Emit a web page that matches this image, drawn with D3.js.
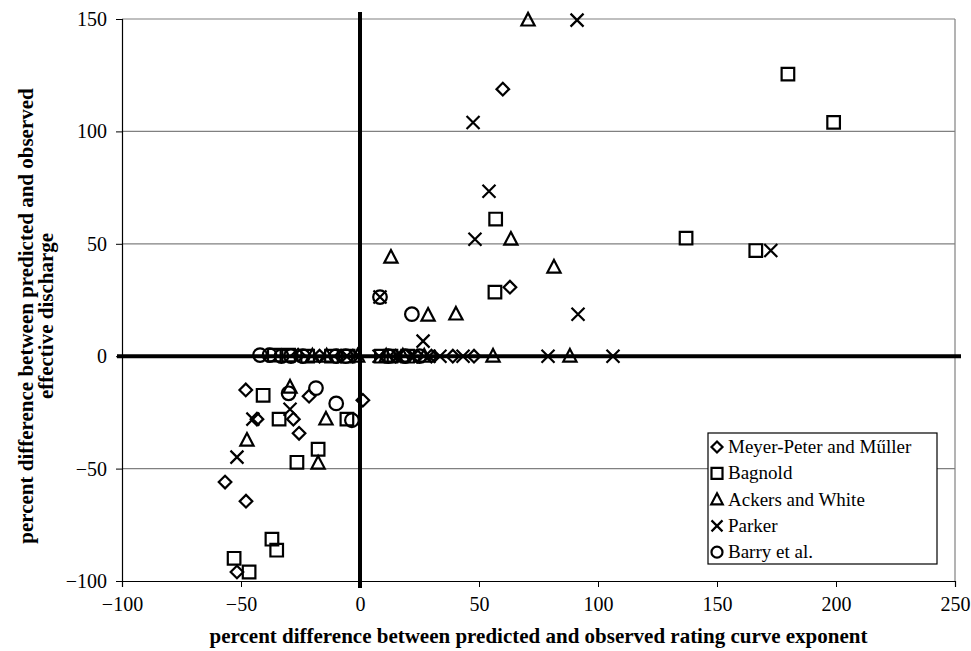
<!DOCTYPE html>
<html>
<head>
<meta charset="utf-8">
<script src="https://cdn.jsdelivr.net/npm/d3@7"></script>
<style>
  body { margin: 0; background: #fff; }
</style>
</head>
<body>
<div id="chart"></div>
<script>
// percent differences, [rating curve exponent, effective discharge]
const meyerPeter = [[-48,-15],[-21.4,-17.8],[1.2,-19.6],[-43.3,-28],[-28,-28],[-25.6,-34.3],
  [-56.7,-56],[-47.9,-64.5],[-51.7,-96],[60,118.8],[63,30.7],[39,0],[47.9,0],
  [-26,0.5],[-17,0],[-8,0],[-3,0],[15,0],[24,0],[30,0]];
const bagnold = [[-40.7,-17.4],[-34,-28],[-5.5,-28],[-17.6,-41.4],[-26.5,-47.2],[-37,-81.4],
  [-35,-86.3],[-52.9,-89.9],[-46.6,-96],[57,61],[56.7,28.5],[137,52.5],[166.3,47],
  [179.8,125.5],[199,104],[-36,0.5],[-30,0.5],[-22,0],[-12,0],[-5,0],[9,0],[13,0],[20,0]];
const ackersWhite = [[-29.4,-13.8],[-14.3,-28],[-47.5,-37.4],[-17.6,-47.6],[70.6,149.5],
  [13,44],[63.4,52],[81.5,39.6],[28.6,18.2],[40.3,18.7],[55.9,0],[88.2,0],
  [-20,0],[-14,0],[-1,0],[11,0],[18,0],[27,0]];
const parker = [[-45,-28],[-29.4,-23.6],[-51.7,-44.9],[54.2,73.4],[48.3,52],[8.4,26.3],
  [91.6,18.7],[26.5,6.7],[91.2,149.5],[172.6,47],[47.5,104],[33.6,0],[43.3,0],[79,0],
  [106.3,0],[8,0],[16,0],[22,0],[29,0]];
const barry = [[-30,-16.5],[-18.5,-14.2],[-10,-21],[-3.4,-28.5],[8.4,26.3],[21.8,18.7],
  [-42,0.5],[-38,0.5],[-33,0],[-29,0],[-24,0],[-10,0],[-6,0],[12,0],[19,0],[25,0]];

const seriesNames = ["Meyer-Peter and Műller", "Bagnold", "Ackers and White", "Parker", "Barry et al."];
const seriesShapes = ["diamond", "square", "triangle", "cross", "circle"];
const seriesData = [meyerPeter, bagnold, ackersWhite, parker, barry];

const xTicks = [-100, -50, 0, 50, 100, 150, 200, 250];
const yTicks = [-100, -50, 0, 50, 100, 150];

const serif = "'Times New Roman', Times, 'Liberation Serif', 'DejaVu Serif', serif";

const width = 971, height = 651,
    margin = ({top: 19, right: 16, bottom: 70, left: 122});

const svg = d3.select("#chart").append("svg")
    .attr("width", width).attr("height", height)
    .style("font-family", serif);

const x = d3.scaleLinear().domain([-100, 250]).range([margin.left, width - margin.right]);
const y = d3.scaleLinear().domain([-100, 150]).range([height - margin.bottom, margin.top]);

// gridlines (gray), and right border
svg.append("g").selectAll("line")
    .data(yTicks.filter(d => d !== 0 && d !== -100))
    .join("line")
    .attr("x1", x(-100)).attr("x2", x(250))
    .attr("y1", d => y(d)).attr("y2", d => y(d))
    .attr("stroke", "#808080").attr("stroke-width", 1.2);
svg.append("line")
    .attr("x1", x(250)).attr("x2", x(250)).attr("y1", y(150)).attr("y2", y(-100))
    .attr("stroke", "#808080").attr("stroke-width", 1.2);

// left and bottom axes
const yAxis = g => g
    .attr("transform", `translate(${x(-100)},0)`)
    .call(d3.axisLeft(y).tickValues(yTicks).tickSize(6).tickPadding(9))
    .attr("font-family", serif).attr("font-size", 20)
    .call(g => g.select(".domain").attr("stroke-width", 1.2));

const xAxis = g => g
    .attr("transform", `translate(0,${y(-100)})`)
    .call(d3.axisBottom(x).tickValues(xTicks).tickSize(6).tickPadding(10))
    .attr("font-family", serif).attr("font-size", 20)
    .call(g => g.select(".domain").attr("stroke-width", 1.2));

svg.append("g").call(yAxis);
svg.append("g").call(xAxis);

// thick zero lines
svg.append("line")
    .attr("x1", x(-100) - 5).attr("x2", x(250) + 6).attr("y1", y(0)).attr("y2", y(0))
    .attr("stroke", "#000").attr("stroke-width", 4);
svg.append("line")
    .attr("x1", x(0)).attr("x2", x(0)).attr("y1", y(150) - 7).attr("y2", y(-100) + 7)
    .attr("stroke", "#000").attr("stroke-width", 4);

// marker shapes
function shapePath(shape, r) {
  if (shape === "diamond") return `M0,${-r}L${r},0L0,${r}L${-r},0Z`;
  if (shape === "square") return `M${-r},${-r}H${r}V${r}H${-r}Z`;
  if (shape === "triangle") return `M0,${-r * 1.15}L${r * 1.05},${r * 0.85}L${-r * 1.05},${r * 0.85}Z`;
  if (shape === "cross") return `M${-r},${-r}L${r},${r}M${r},${-r}L${-r},${r}`;
  return d3.arc()({innerRadius: 0, outerRadius: r, startAngle: 0, endAngle: 2 * Math.PI});
}
const shapeSize = {diamond: 6.3, square: 6.3, triangle: 6.3, cross: 6.5, circle: 6.8};

seriesData.forEach((data, i) => {
  const shape = seriesShapes[i];
  svg.append("g").selectAll("path")
      .data(data)
      .join("path")
      .attr("d", shapePath(shape, shapeSize[shape]))
      .attr("transform", d => `translate(${x(d[0])},${y(d[1])})`)
      .attr("fill", "none")
      .attr("stroke", "#000")
      .attr("stroke-width", 2.2);
});

// legend
const legend = svg.append("g").attr("transform", "translate(708,433)");
legend.append("rect")
    .attr("width", 229).attr("height", 131)
    .attr("fill", "#fff").attr("stroke", "#000").attr("stroke-width", 1.2);
seriesNames.forEach((name, i) => {
  const row = legend.append("g").attr("transform", `translate(9,${14 + i * 26.3})`);
  const shape = seriesShapes[i];
  row.append("path")
      .attr("d", shapePath(shape, 5.5))
      .attr("fill", "none").attr("stroke", "#000").attr("stroke-width", 2.2);
  row.append("text")
      .attr("x", 11).attr("y", 6)
      .attr("font-size", 19)
      .text(name);
});

// axis titles
svg.append("text")
    .attr("x", (x(-100) + x(250)) / 2).attr("y", 643)
    .attr("text-anchor", "middle")
    .attr("font-size", 21).attr("font-weight", "bold")
    .text("percent difference between predicted and observed rating curve exponent");

const yTitle = svg.append("text")
    .attr("transform", `translate(33,316) rotate(-90)`)
    .attr("text-anchor", "middle")
    .attr("font-size", 21).attr("font-weight", "bold");
yTitle.append("tspan").attr("x", 0).attr("dy", 0)
    .text("percent difference between predicted and observed");
yTitle.append("tspan").attr("x", 0).attr("dy", 20)
    .text("effective discharge");
</script>
</body>
</html>
